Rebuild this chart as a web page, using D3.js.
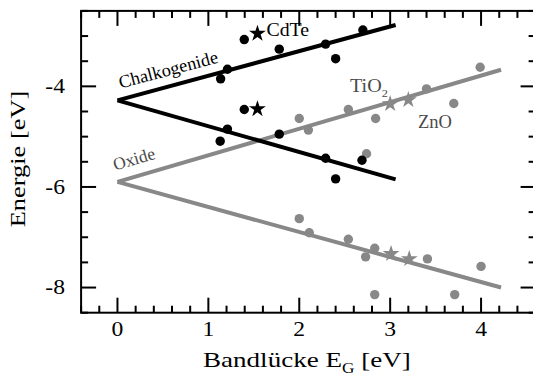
<!DOCTYPE html>
<html><head><meta charset="utf-8">
<script src="https://cdn.jsdelivr.net/npm/d3@7"></script>
<style>body{margin:0;background:#fff}svg{display:block}</style>
</head><body>
<svg id="c" width="533" height="383"></svg>
<script>
// Data
const chalkUpX = [1.395, 1.78, 2.29, 2.40, 1.21, 1.135, 2.70];
const chalkUpY = [-3.07, -3.26, -3.16, -3.45, -3.66, -3.85, -2.88];
const chalkLoX = [1.395, 1.21, 1.13, 1.78, 2.29, 2.69, 2.40];
const chalkLoY = [-4.46, -4.85, -5.09, -4.95, -5.43, -5.47, -5.84];
const oxUpX = [2.0, 2.10, 2.54, 2.84, 2.74, 3.40, 3.70, 3.99];
const oxUpY = [-4.64, -4.87, -4.46, -4.64, -5.34, -4.05, -4.34, -3.62];
const oxLoX = [2.0, 2.11, 2.54, 2.83, 2.73, 3.41, 4.0, 2.83, 3.71];
const oxLoY = [-6.63, -6.91, -7.04, -7.22, -7.39, -7.43, -7.58, -8.14, -8.14];
const chalkStarX = [1.54, 1.54];
const chalkStarY = [-2.97, -4.47];
const oxStarX = [3.01, 3.21, 3.0, 3.2];
const oxStarY = [-7.35, -7.45, -4.37, -4.29];
const chalkLineUp = [[0, -4.28], [3.06, -2.78]];
const chalkLineLo = [[0, -4.28], [3.06, -5.85]];
const oxLineUp = [[0, -5.9], [4.22, -3.67]];
const oxLineLo = [[0, -5.9], [4.22, -8.0]];
const xTicks = [0, 1, 2, 3, 4];
const yTicks = [-8, -6, -4];

const FONT = "Liberation Serif";
const svg = d3.select("#c");
const x = d3.scaleLinear().domain([-0.4, 4.6]).range([81.1, 535.6]);
const y = d3.scaleLinear().domain([-8.5, -2.5]).range([312.7, 10.9]);
const black = "#000", gray = "#888", tgray = "#4a4a4a";

const line = d3.line().x(d => x(d[0])).y(d => y(d[1]));
function drawLine(pts, col) {
  svg.append("path").attr("d", line(pts)).attr("fill", "none")
    .attr("stroke", col).attr("stroke-width", 4);
}
drawLine(oxLineUp, gray); drawLine(oxLineLo, gray);
drawLine(chalkLineUp, black); drawLine(chalkLineLo, black);

function dots(xs, ys, col) {
  svg.append("g").selectAll("circle").data(xs).join("circle")
    .attr("cx", d => x(d)).attr("cy", (d, i) => y(ys[i])).attr("r", 4.7).attr("fill", col);
}
dots(oxUpX, oxUpY, gray); dots(oxLoX, oxLoY, gray);
dots(chalkUpX, chalkUpY, black); dots(chalkLoX, chalkLoY, black);

const star = d3.symbol().type(d3.symbolStar).size(88);
function stars(xs, ys, col) {
  svg.append("g").selectAll("path").data(xs).join("path")
    .attr("d", star).attr("transform", (d, i) => `translate(${x(d)},${y(ys[i] + 0.02)})`).attr("fill", col);
}
stars(oxStarX, oxStarY, gray); stars(chalkStarX, chalkStarY, black);

// Axes
const [x0, x1] = x.range(), [yb, yt] = y.range();
const minorX = d3.range(-0.4, 4.61, 0.2).map(v => +v.toFixed(2));
const minorY = d3.range(-8.5, -2.49, 0.5);
const ax = svg.append("g").attr("stroke", "#000").attr("stroke-width", 2);
ax.append("rect").attr("x", x0).attr("y", yt).attr("width", x1 - x0).attr("height", yb - yt).attr("fill", "none");
minorX.forEach(v => {
  const major = xTicks.some(t => Math.abs(t - v) < 1e-6);
  const L = major ? 15 : 7;
  ax.append("line").attr("x1", x(v)).attr("x2", x(v)).attr("y1", yb).attr("y2", yb - L);
  ax.append("line").attr("x1", x(v)).attr("x2", x(v)).attr("y1", yt).attr("y2", yt + L);
});
minorY.forEach(v => {
  const major = yTicks.some(t => Math.abs(t - v) < 1e-6);
  const L = major ? 15 : 7;
  ax.append("line").attr("x1", x0).attr("x2", x0 + L).attr("y1", y(v)).attr("y2", y(v));
  ax.append("line").attr("x1", x1).attr("x2", x1 - L).attr("y1", y(v)).attr("y2", y(v));
});

// text helper: horizontally stretched text (reference glyphs are wider than Liberation Serif)
function label(px, py, rot, size, stretch, anchor, fill, build) {
  const g = svg.append("g").attr("transform", `translate(${px},${py}) rotate(${rot})`);
  const t = g.append("text").attr("font-family", FONT).attr("font-size", size)
    .attr("text-anchor", anchor).attr("fill", fill).attr("transform", `scale(${stretch},1)`);
  if (typeof build === "string") t.text(build); else build(t);
  return t;
}
xTicks.forEach(v => label(x(v), 335.5, 0, 20, 1.18, "middle", black, String(v)));
yTicks.forEach(v => label(65, y(v) + 6.8, 0, 20, 1.18, "end", black, String(v)));

// Axis titles
label(25, 159, -90, 22, 1.2, "middle", black, "Energie [eV]");
label(203, 366.7, 0, 22, 1.23, "start", black, t => {
  t.append("tspan").text("Bandlücke E");
  t.append("tspan").attr("font-size", 14).attr("dy", 6).text("G");
  t.append("tspan").attr("dy", -6).text(" [eV]");
});

// Labels
label(120.5, 88.5, -14.8, 18, 1.02, "start", black, "Chalkogenide");
label(115, 170.5, -16, 17.5, 1.0, "start", tgray, "Oxide");
label(266.5, 35.5, 0, 18, 1.1, "start", black, "CdTe");
label(350, 92, 0, 18, 1.12, "start", tgray, t => {
  t.append("tspan").text("TiO");
  t.append("tspan").attr("font-size", 11).attr("dy", 5).text("2");
});
label(418, 128, 0, 18, 1.03, "start", tgray, "ZnO");
</script>
</body></html>
